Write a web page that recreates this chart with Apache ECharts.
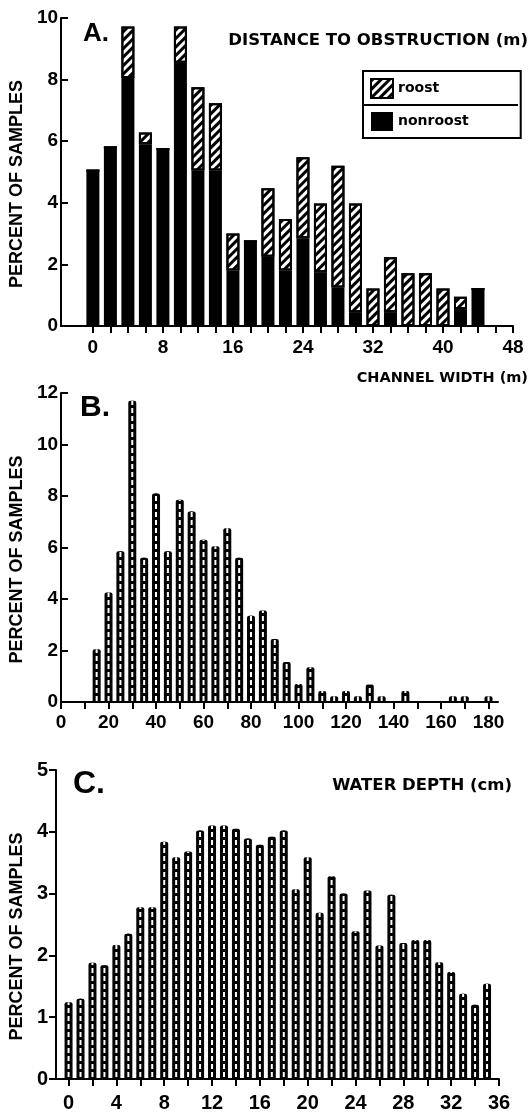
<!DOCTYPE html>
<html><head><meta charset="utf-8">
<script src="https://cdn.jsdelivr.net/npm/echarts@6/dist/echarts.min.js"></script>
<style>html,body{margin:0;padding:0;background:#fff}#c{width:531px;height:1113px}</style>
</head><body><div id="c"></div>
<script>
// ---- Panel A: distance to obstruction (m) ----
const distBins = [0, 2, 4, 6, 8, 10, 12, 14, 16, 18, 20, 22, 24, 26, 28, 30, 32, 34, 36, 38, 40, 42, 44];
const nonroost = [5.05, 5.8, 8.05, 5.9, 5.75, 8.55, 5.05, 5.05, 1.8, 2.75, 2.25, 1.8, 2.85, 1.75, 1.25, 0.45, 0, 0.45, 0, 0, 0, 0.55, 1.2];
const roost    = [0, 0, 1.67, 0.38, 0, 1.17, 2.7, 2.18, 1.2, 0, 2.22, 1.67, 2.63, 2.23, 3.95, 3.53, 1.22, 1.78, 1.71, 1.71, 1.22, 0.4, 0];
const distTicks  = [0, 2, 4, 6, 8, 10, 12, 14, 16, 18, 20, 22, 24, 26, 28, 30, 32, 34, 36, 38, 40, 42, 44, 46, 48];
const distLabels = [0, 8, 16, 24, 32, 40, 48];

// ---- Panel B: channel width (m) ----
const widthBins = [15, 20, 25, 30, 35, 40, 45, 50, 55, 60, 65, 70, 75, 80, 85, 90, 95, 100, 105, 110, 115, 120, 125, 130, 135, 140, 145, 150, 155, 160, 165, 170, 175, 180];
const widthPct  = [2.05, 4.25, 5.85, 11.7, 5.6, 8.1, 5.85, 7.85, 7.4, 6.3, 6.05, 6.75, 5.6, 3.35, 3.55, 2.45, 1.55, 0.7, 1.35, 0.43, 0.22, 0.43, 0.22, 0.68, 0.22, 0, 0.43, 0, 0, 0, 0.22, 0.22, 0, 0.22];
const widthTicks  = [0, 10, 20, 30, 40, 50, 60, 70, 80, 90, 100, 110, 120, 130, 140, 150, 160, 170, 180];
const widthLabels = [0, 20, 40, 60, 80, 100, 120, 140, 160, 180];

// ---- Panel C: water depth (cm) ----
const depthBins = [0, 1, 2, 3, 4, 5, 6, 7, 8, 9, 10, 11, 12, 13, 14, 15, 16, 17, 18, 19, 20, 21, 22, 23, 24, 25, 26, 27, 28, 29, 30, 31, 32, 33, 34, 35];
const depthPct  = [1.24, 1.30, 1.88, 1.84, 2.17, 2.35, 2.78, 2.78, 3.84, 3.59, 3.68, 4.02, 4.10, 4.10, 4.05, 3.89, 3.79, 3.92, 4.02, 3.07, 3.59, 2.69, 3.28, 3.00, 2.39, 3.05, 2.16, 2.98, 2.20, 2.25, 2.25, 1.89, 1.73, 1.38, 1.20, 1.54];
const depthTicks  = [0, 2, 4, 6, 8, 10, 12, 14, 16, 18, 20, 22, 24, 26, 28, 30, 32, 34, 36];
const depthLabels = [0, 4, 8, 12, 16, 20, 24, 28, 32, 36];

const NUM = 'Liberation Sans';
const TTL = 'DejaVu Sans';
// value first, bin second (encode maps it back), so that stacking acts on the percent dimension
const pairVX = (xs, ys) => xs.map((x, i) => [ys[i], x]);
const pair = (xs, ys) => xs.map((x, i) => [x, ys[i]]);

function xAxisCfg(grid, min, max, ticks, labels, margin, fs) {
  return {
    gridIndex: grid, type: 'value', min: min, max: max,
    axisLine: { show: true, onZero: false, lineStyle: { color: '#000', width: 2 } },
    axisTick: { show: true, customValues: ticks, length: 7, lineStyle: { color: '#000', width: 2 } },
    axisLabel: { customValues: labels, margin: margin, fontSize: fs, fontWeight: 'bold', color: '#000', fontFamily: NUM },
    splitLine: { show: false }
  };
}
function hiddenX(grid, min, max) {
  return { gridIndex: grid, type: 'value', min: min, max: max, show: false, splitLine: { show: false } };
}
function yAxisCfg(grid, max, interval, gap, inside, offset, fs) {
  return {
    gridIndex: grid, type: 'value', min: 0, max: max, interval: interval, offset: offset,
    name: 'PERCENT OF SAMPLES', nameLocation: 'middle', nameGap: gap,
    nameTextStyle: { fontSize: 18, fontWeight: 'bold', color: '#000', fontFamily: NUM, padding: [0, 24, 0, 0] },
    axisLine: { show: true, onZero: false, lineStyle: { color: '#000', width: 2 } },
    axisTick: { show: true, inside: inside, length: 7, lineStyle: { color: '#000', width: 2 } },
    axisLabel: { margin: inside ? 3 : 8, fontSize: fs, fontWeight: 'bold', color: '#000', fontFamily: NUM },
    splitLine: { show: false }
  };
}
const dashDecal = () => ({ symbol: 'rect', symbolSize: 1, color: '#fff', dashArrayX: [1, 0], dashArrayY: [5, 3], rotation: 0 });

const option = {
  backgroundColor: '#fff',
  animation: false,
  title: [
    { text: 'A.', left: 83, top: 21, padding: 0, textStyle: { fontSize: 26, fontWeight: 'bold', color: '#000', fontFamily: NUM } },
    { text: 'DISTANCE TO OBSTRUCTION (m)', right: 3, top: 32, padding: 0, textStyle: { fontSize: 16.5, fontWeight: 'bold', color: '#000', fontFamily: TTL } },
    { text: 'B.', left: 80, top: 393, padding: 0, textStyle: { fontSize: 30, fontWeight: 'bold', color: '#000', fontFamily: NUM } },
    { text: 'CHANNEL WIDTH (m)', right: 3, top: 371, padding: 0, textStyle: { fontSize: 14.5, fontWeight: 'bold', color: '#000', fontFamily: TTL } },
    { text: 'C.', left: 73, top: 768, padding: 0, textStyle: { fontSize: 32, fontWeight: 'bold', color: '#000', fontFamily: NUM } },
    { text: 'WATER DEPTH (cm)', right: 19, top: 777, padding: 0, textStyle: { fontSize: 16.5, fontWeight: 'bold', color: '#000', fontFamily: TTL } }
  ],
  legend: {
    data: ['roost', 'nonroost'], orient: 'vertical', left: 363, top: 71,
    icon: 'rect', itemWidth: 22, itemHeight: 19, itemGap: 13,
    padding: [7, 52, 7, 7], borderColor: '#000', borderWidth: 2, selectedMode: false,
    textStyle: { fontSize: 14, fontWeight: 'bold', color: '#000', fontFamily: TTL }
  },
  graphic: [
    { type: 'line', shape: { x1: 363, y1: 105, x2: 518, y2: 105 }, style: { stroke: '#000', lineWidth: 2 }, silent: true }
  ],
  grid: [
    { left: 59, right: 18, top: 18, bottom: 787 },
    { left: 51, right: 33, top: 393, bottom: 411 },
    { left: 38, right: 32, top: 770, bottom: 34 }
  ],
  xAxis: [
    xAxisCfg(0, -3.64, 48, distTicks, distLabels, 12, 19),
    xAxisCfg(1, 0, 184, widthTicks, widthLabels, 11, 19),
    xAxisCfg(2, -1.55, 36, depthTicks, depthLabels, 14, 20),
    hiddenX(1, 0, 184),
    hiddenX(2, -1.55, 36)
  ],
  yAxis: [
    yAxisCfg(0, 10, 2, 27, true, 0, 19),
    yAxisCfg(1, 12, 2, 22, true, 0, 19),
    yAxisCfg(2, 5, 1, 21, false, -6, 20)
  ],
  series: [
    { name: 'nonroost', type: 'bar', xAxisIndex: 0, yAxisIndex: 0, stack: 'A', barWidth: 13,
      encode: { x: 1, y: 0 },
      data: pairVX(distBins, nonroost), itemStyle: { color: '#000' } },
    { name: 'roost', type: 'bar', xAxisIndex: 0, yAxisIndex: 0, stack: 'A', barWidth: 13,
      encode: { x: 1, y: 0 },
      data: pairVX(distBins, roost),
      itemStyle: { color: '#fff', borderColor: '#000', borderWidth: 2,
        decal: { symbol: 'rect', symbolSize: 1, color: '#000', dashArrayX: [1, 0], dashArrayY: [3, 3], rotation: -Math.PI / 4 } } },
    { name: 'width', type: 'bar', xAxisIndex: 1, yAxisIndex: 1, barWidth: 8,
      data: pair(widthBins, widthPct), itemStyle: { color: '#000', borderRadius: [2, 2, 0, 0] } },
    { name: 'widthDash', type: 'bar', xAxisIndex: 3, yAxisIndex: 1, barWidth: 2, silent: true,
      data: pair(widthBins, widthPct), itemStyle: { color: '#000', decal: dashDecal() } },
    { name: 'depth', type: 'bar', xAxisIndex: 2, yAxisIndex: 2, barWidth: 8,
      data: pair(depthBins, depthPct), itemStyle: { color: '#000', borderRadius: [2, 2, 0, 0] } },
    { name: 'depthDash', type: 'bar', xAxisIndex: 4, yAxisIndex: 2, barWidth: 2, silent: true,
      data: pair(depthBins, depthPct), itemStyle: { color: '#000', decal: dashDecal() } }
  ]
};
const chart = echarts.init(document.getElementById('c'), null, { renderer: 'canvas' });
chart.setOption(option);
</script></body></html>
